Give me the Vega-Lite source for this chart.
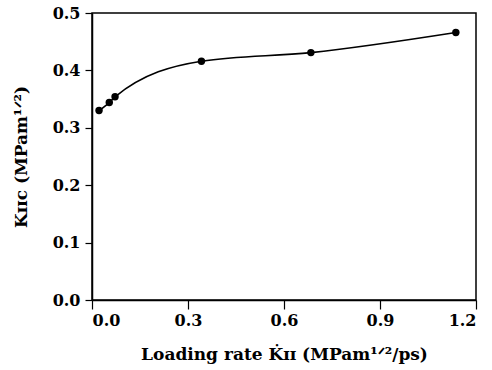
{
  "$schema": "https://vega.github.io/schema/vega-lite/v6.json",
  "autosize": "none",
  "padding": {"left": 92, "top": 13, "right": 16, "bottom": 70},
  "width": 384,
  "height": 287,
  "background": "white",
  "config": {
    "view": {"stroke": "black", "strokeWidth": 1.5},
    "font": "DejaVu Serif",
    "axis": {
      "grid": false,
      "domainColor": "black",
      "domainWidth": 1.5,
      "tickColor": "black",
      "tickWidth": 1.2,
      "labelFont": "DejaVu Serif",
      "labelFontWeight": "bold",
      "labelFontSize": 16,
      "labelColor": "black",
      "titleFont": "DejaVu Serif",
      "titleFontWeight": "bold",
      "titleFontSize": 17,
      "titleColor": "black"
    }
  },
  "data": {
    "values": [
      {"rate": 0.022, "k": 0.330},
      {"rate": 0.054, "k": 0.344},
      {"rate": 0.072, "k": 0.354},
      {"rate": 0.342, "k": 0.416},
      {"rate": 0.684, "k": 0.431},
      {"rate": 1.137, "k": 0.466}
    ]
  },
  "encoding": {
    "x": {
      "field": "rate",
      "type": "quantitative",
      "scale": {"domain": [0, 1.2], "nice": false, "zero": false},
      "axis": {
        "values": [0, 0.3, 0.6, 0.9, 1.2],
        "format": ".1f",
        "tickSize": 9,
        "labelPadding": 3,
        "title": "Loading rate K̇ɪɪ (MPam¹ᐟ²/ps)",
        "titlePadding": 18
      }
    },
    "y": {
      "field": "k",
      "type": "quantitative",
      "scale": {"domain": [0, 0.5], "nice": false},
      "axis": {
        "values": [0, 0.1, 0.2, 0.3, 0.4, 0.5],
        "format": ".1f",
        "tickSize": 7,
        "labelPadding": 5,
        "title": "Kɪɪc (MPam¹ᐟ²)",
        "titlePadding": 22
      }
    }
  },
  "layer": [
    {"mark": {"type": "line", "interpolate": "monotone", "color": "black", "strokeWidth": 1.6}},
    {"mark": {"type": "point", "filled": true, "color": "black", "opacity": 1, "size": 55}}
  ]
}
